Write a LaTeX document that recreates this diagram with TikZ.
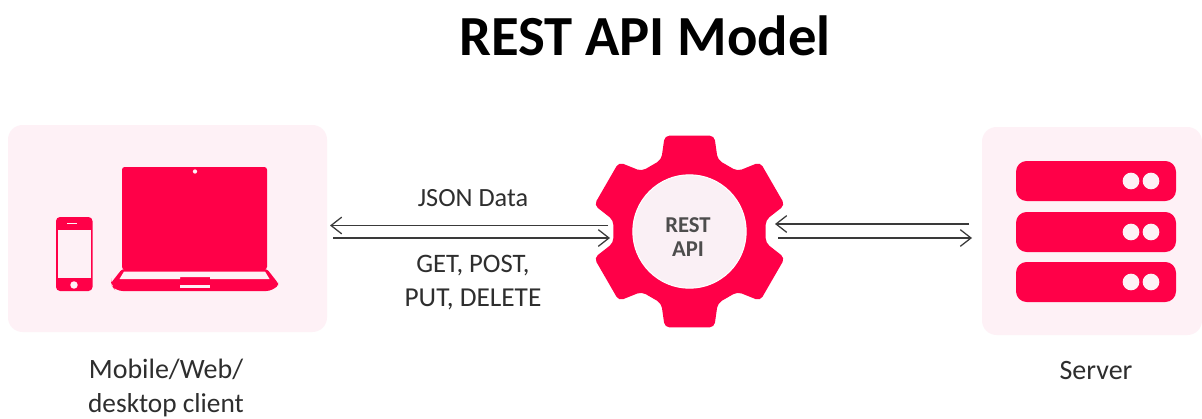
\documentclass[tikz,border=0pt]{standalone}
\usepackage{fontspec}
\setmainfont{Carlito}
\usetikzlibrary{arrows.meta}
\definecolor{hot}{HTML}{FF0048}
\definecolor{pale}{HTML}{FEF1F6}
\definecolor{core}{HTML}{FAF0F5}
\definecolor{ink}{HTML}{2E2E2E}
\definecolor{wire}{HTML}{3A3A3A}
\tikzset{
  x=0.75pt,y=-0.75pt,
  panel/.style={fill=pale,draw=none,rounded corners=11pt,inner sep=0pt,outer sep=0pt},
  solid red/.style={fill=hot,draw=none},
  cut/.style={fill=pale,draw=none},
  rack/.style={fill=hot,draw=none,rounded corners=8pt,minimum width=120pt,minimum height=30pt,inner sep=0pt},
  led/.style={circle,fill=pale,draw=none,minimum size=12.5pt,inner sep=0pt},
  label/.style={text=ink,font=\fontsize{20.5}{25}\selectfont,align=center,inner sep=0pt},
  wirearrow/.style={draw=wire,line width=0.95pt,-{Straight Barb[length=8pt,width=12.5pt,line width=0.95pt]}}
}
\begin{document}
\begin{tikzpicture}
\useasboundingbox (0,0) rectangle (1202,418);
\fill[white] (0,0) rectangle (1202,418);
\node[text=black,font=\fontsize{42.5}{46}\bfseries\selectfont,inner sep=0pt] (title) at (645,36) {REST API Model};
% client panel
\node[panel,minimum width=239.25pt,minimum height=155.25pt] (client) at (167.5,228.5) {};
\fill[solid red,rounded corners=2pt] (122,167) rectangle (267,269.5);
\fill[pale] (195,171.5) circle (1.6pt);
\fill[solid red,rounded corners=2pt] (122,269) -- (267,269) -- (278,283) -- (278,285) [rounded corners=5pt] -- (273,291) -- (116,291) -- (111,285) [rounded corners=2pt] -- (111,283) -- cycle;
\fill[cut] (124,271.5) -- (265,271.5) -- (269.5,279) -- (210,279) -- (210,277) -- (180,277) -- (180,279) -- (119.5,279) -- cycle;
\fill[cut] (180,284.5) rectangle (210,287.5);
\fill[solid red,rounded corners=3pt] (56,217) rectangle (92.5,291);
\fill[pale] (58,229.5) rectangle (90.5,278);
\fill[pale] (74,285) circle (2.8pt);
\fill[pale] (67,222.5) rectangle (77,223.5);
% server panel
\node[panel,minimum width=165pt,minimum height=156pt] (server) at (1092,231) {};
\foreach \n/\yy in {a/181,b/232,c/282}{
  \node[rack] (bar\n) at (1096,\yy) {};
  \node[led] at (1131,\yy) {};
  \node[led] at (1151,\yy) {};
}
% gear
\coordinate (G) at (689.5,231.5);
\fill[solid red,rounded corners=3.5pt,shift={(G)},y=0.75pt]
  (68.5:77) -- (75.5:99) -- (104.5:99) -- (111.5:77) --
  (128.5:77) -- (135.5:99) -- (164.5:99) -- (171.5:77) --
  (188.5:77) -- (195.5:99) -- (224.5:99) -- (231.5:77) --
  (248.5:77) -- (255.5:99) -- (284.5:99) -- (291.5:77) --
  (308.5:77) -- (315.5:99) -- (344.5:99) -- (351.5:77) --
  (8.5:77) -- (15.5:99) -- (44.5:99) -- (51.5:77) -- cycle;
\node[circle,fill=core,draw=white,line width=0.8pt,minimum size=85pt,inner sep=0pt] (gear) at (G) {};
\node[text=ink!85,align=center,inner sep=0pt,font=\fontsize{17}{18}\bfseries\selectfont] (gearlabel) at (688,237) {REST\\API};
% connector ends
\coordinate (cA) at (330,225.5);
\coordinate (cB) at (333,238);
\coordinate (gA) at (608,225.5);
\coordinate (gB) at (610,238);
\coordinate (gC) at (775,224);
\coordinate (gD) at (778,238);
\coordinate (sA) at (969,224);
\coordinate (sB) at (972,238);
\draw[wirearrow] (gA) -- (cA);
\draw[wirearrow] (cB) -- (gB);
\draw[wirearrow] (sA) -- (gC);
\draw[wirearrow] (gD) -- (sB);
% labels
\node[label] (json) at (473,198) {\fontsize{19.7}{25}\selectfont JSON Data};
\node[label] (verbs) at (473,282.5) {\fontsize{20}{23}\selectfont GET, POST,\\PUT, DELETE};
\node[label] (clientlabel) at (166,388) {\fontsize{21}{25.5}\selectfont Mobile/Web/\\desktop client};
\node[label] (serverlabel) at (1096,371) {\fontsize{21}{25}\selectfont Server};
\end{tikzpicture}
\end{document}
